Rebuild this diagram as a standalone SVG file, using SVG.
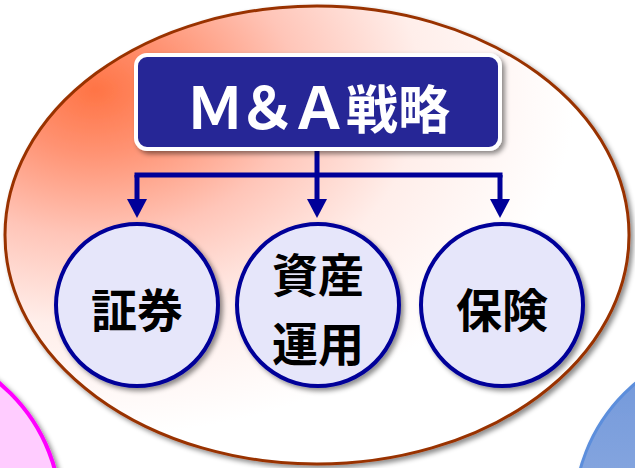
<svg xmlns="http://www.w3.org/2000/svg" width="635" height="468" viewBox="0 0 635 468">
<defs>
<radialGradient id="gEll" gradientUnits="userSpaceOnUse" cx="95" cy="90" r="480" fx="95" fy="90" gradientTransform="translate(95 90) scale(1 0.72) translate(-95 -90)">
<stop offset="0" stop-color="#FF7445"/>
<stop offset="0.18" stop-color="#FF9272"/>
<stop offset="0.42" stop-color="#FFC5B8"/>
<stop offset="0.68" stop-color="#FFEEEA"/>
<stop offset="1" stop-color="#FFFFFF"/>
</radialGradient>
<linearGradient id="gBlue" x1="0" y1="0" x2="0" y2="1">
<stop offset="0" stop-color="#6F96DA"/>
<stop offset="1" stop-color="#A6BCE6"/>
</linearGradient>
<filter id="sh" x="-10%" y="-10%" width="125%" height="125%">
<feDropShadow dx="3" dy="3" stdDeviation="2.5" flood-color="#000" flood-opacity="0.45"/>
</filter>
<marker id="arr" markerUnits="userSpaceOnUse" markerWidth="20" markerHeight="22" viewBox="0 0 20 22" refX="0" refY="11" orient="auto">
<path d="M0,1 L19,11 L0,21 Z" fill="#000099"/>
</marker>
<style>
.circ{fill:#E6E6FA;stroke:#000099;stroke-width:4}
.lbl{font-family:"Noto Sans CJK JP","Noto Sans CJK SC",sans-serif;font-weight:bold;font-size:46px;fill:#000;text-anchor:middle}
.conn{fill:none;stroke:#000099;stroke-width:5}
</style>
</defs>

<g id="bg-left">
<circle cx="-111" cy="515" r="172" fill="#FFCCFF" stroke="#FF00FF" stroke-width="4" filter="url(#sh)"/>
</g>
<g id="bg-right">
<circle cx="746" cy="515" r="172" fill="url(#gBlue)" stroke="#5B8EDC" stroke-width="3" filter="url(#sh)"/>
</g>

<g id="group-ellipse">
<ellipse cx="317" cy="235" rx="312" ry="229" fill="url(#gEll)" stroke="#993300" stroke-width="3" filter="url(#sh)"/>
</g>

<g id="connectors">
<path class="conn" d="M317,151 V175"/>
<path class="conn" d="M134.5,175 H502.5"/>
<path class="conn" d="M137,175 V199" marker-end="url(#arr)"/>
<path class="conn" d="M317,175 V199" marker-end="url(#arr)"/>
<path class="conn" d="M500,175 V199" marker-end="url(#arr)"/>
</g>

<g id="node-ma">
<rect x="136" y="55" width="364" height="94" rx="11" ry="11" fill="#282896" stroke="#FFFFFF" stroke-width="4" filter="url(#sh)"/>
<text x="318" y="129" font-family="'Noto Sans CJK JP','Noto Sans CJK SC',sans-serif" font-weight="bold" font-size="52" fill="#FFFFFF" text-anchor="middle"><tspan font-size="58" letter-spacing="-6">Ｍ＆Ａ</tspan><tspan dx="4">戦略</tspan></text>
</g>

<g id="node-shoken">
<circle class="circ" cx="137" cy="305" r="81" filter="url(#sh)"/>
<text class="lbl" x="137" y="327">証券</text>
</g>

<g id="node-shisan">
<circle class="circ" cx="318" cy="305" r="81" filter="url(#sh)"/>
<text class="lbl" x="318" y="292">資産</text>
<text class="lbl" x="318" y="361">運用</text>
</g>

<g id="node-hoken">
<circle class="circ" cx="502" cy="305" r="81" filter="url(#sh)"/>
<text class="lbl" x="502" y="327">保険</text>
</g>
</svg>
